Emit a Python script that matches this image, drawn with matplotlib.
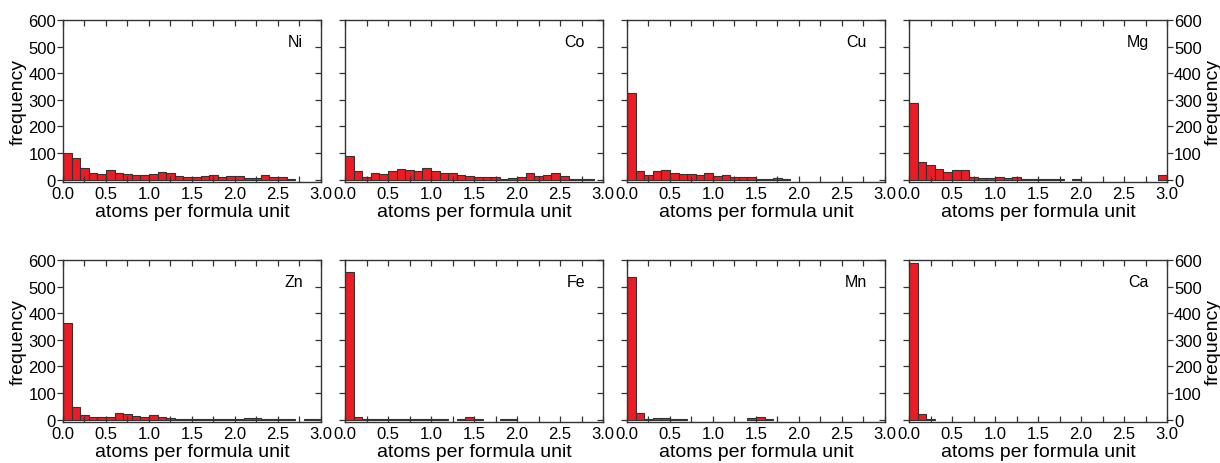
import numpy as np
import matplotlib
matplotlib.use('Agg')
import matplotlib.pyplot as plt
from matplotlib.ticker import MultipleLocator

plt.rcParams['font.family'] = ['Liberation Sans', 'DejaVu Sans']

# histogram counts, bins of 0.1 apfu from 0.0 to 3.0
bin_edges = np.round(np.arange(0, 3.01, 0.1), 2)

elements = ['Ni', 'Co', 'Cu', 'Mg', 'Zn', 'Fe', 'Mn', 'Ca']

ni = [100, 80, 44, 24, 21, 38, 23, 20, 18, 16, 20, 27, 25, 14, 11,
      9, 12, 16, 9, 15, 12, 7, 6, 16, 8, 8, 4, 0, 0, 0]
co = [89, 33, 11, 26, 20, 34, 40, 36, 34, 44, 33, 25, 23, 18, 12,
      8, 10, 10, 4, 6, 8, 23, 14, 16, 25, 12, 1, 1, 1, 0]
cu = [325, 34, 16, 31, 35, 26, 20, 21, 18, 24, 12, 18, 9, 9, 8,
      4, 4, 6, 1, 0, 0, 0, 0, 0, 0, 0, 0, 0, 0, 0]
mg = [287, 65, 56, 39, 28, 36, 35, 10, 6, 6, 8, 5, 8, 4, 1,
      1, 1, 1, 0, 3, 0, 0, 0, 0, 0, 0, 0, 0, 0, 16]
zn = [365, 48, 18, 9, 8, 8, 23, 20, 14, 10, 19, 9, 5, 3, 1,
      3, 4, 1, 2, 3, 1, 6, 6, 1, 2, 1, 1, 0, 1, 1]
fe = [555, 8, 4, 1, 4, 1, 1, 1, 3, 1, 2, 1, 0, 3, 10,
      4, 0, 0, 1, 2, 0, 0, 0, 0, 0, 0, 0, 0, 0, 0]
mn = [538, 26, 3, 5, 7, 3, 2, 0, 0, 0, 0, 0, 0, 0, 5,
      11, 1, 0, 0, 0, 0, 0, 0, 0, 0, 0, 0, 0, 0, 0]
ca = [589, 22, 1, 0, 0, 0, 0, 0, 0, 0, 0, 0, 0, 0, 0,
      0, 0, 0, 0, 0, 0, 0, 0, 0, 0, 0, 0, 0, 0, 0]

counts = [ni, co, cu, mg, zn, fe, mn, ca]

fig = plt.figure(figsize=(12.2, 4.64), dpi=100)

lefts = [0.0516, 0.2828, 0.5139, 0.7451]
bottoms = [0.6056, 0.0884]
w, h = 0.2115, 0.349

for i, (el, c) in enumerate(zip(elements, counts)):
    row, col = divmod(i, 4)
    ax = fig.add_axes([lefts[col], bottoms[row], w, h])
    c = np.array(c)
    edges = ['#333333' if v > 0 else 'none' for v in c]
    ax.bar(bin_edges[:-1], c, width=0.1, align='edge',
           color='#ed1c24', edgecolor=edges, linewidth=0.8)

    ax.set_xlim(0, 3.0)
    ax.set_ylim(-9, 600)
    ax.xaxis.set_major_locator(MultipleLocator(0.5))
    ax.xaxis.set_minor_locator(MultipleLocator(0.25))
    ax.xaxis.set_major_formatter(plt.FormatStrFormatter('%.1f'))
    ax.yaxis.set_major_locator(MultipleLocator(100))

    ax.tick_params(axis='x', which='both', direction='in', top=True,
                   length=4, width=0.9, color='#333333', labelsize=12, pad=3)
    if col == 3:
        ax.yaxis.tick_right()
        ax.yaxis.set_label_position('right')
        ax.tick_params(axis='y', direction='out', left=True, right=True,
                       labelleft=False, labelright=True,
                       length=4, width=0.9, color='#333333', labelsize=12, pad=1)
        ax.set_ylabel('frequency', fontsize=14, labelpad=2)
    else:
        ax.tick_params(axis='y', which='both', direction='out', left=True,
                       length=4, width=0.9, color='#333333', labelsize=12, pad=1)
        # right-side ticks point inwards on the inner panels
        ax2 = ax.secondary_yaxis('right')
        ax2.yaxis.set_major_locator(MultipleLocator(100))
        ax2.tick_params(direction='in', length=4, width=0.9, color='#333333',
                        labelright=False)
        ax2.spines['right'].set_visible(False)
        if col == 0:
            ax.set_ylabel('frequency', fontsize=14, labelpad=1)
        else:
            ax.tick_params(axis='y', labelleft=False)

    for s in ax.spines.values():
        s.set_color('#333333')
        s.set_linewidth(1.0)

    ax.set_xlabel('atoms per formula unit', fontsize=14, labelpad=1)
    ax.text(0.93, 0.87, el, transform=ax.transAxes, ha='right', va='center',
            fontsize=11.5)

fig.savefig('out.png', dpi=100)
